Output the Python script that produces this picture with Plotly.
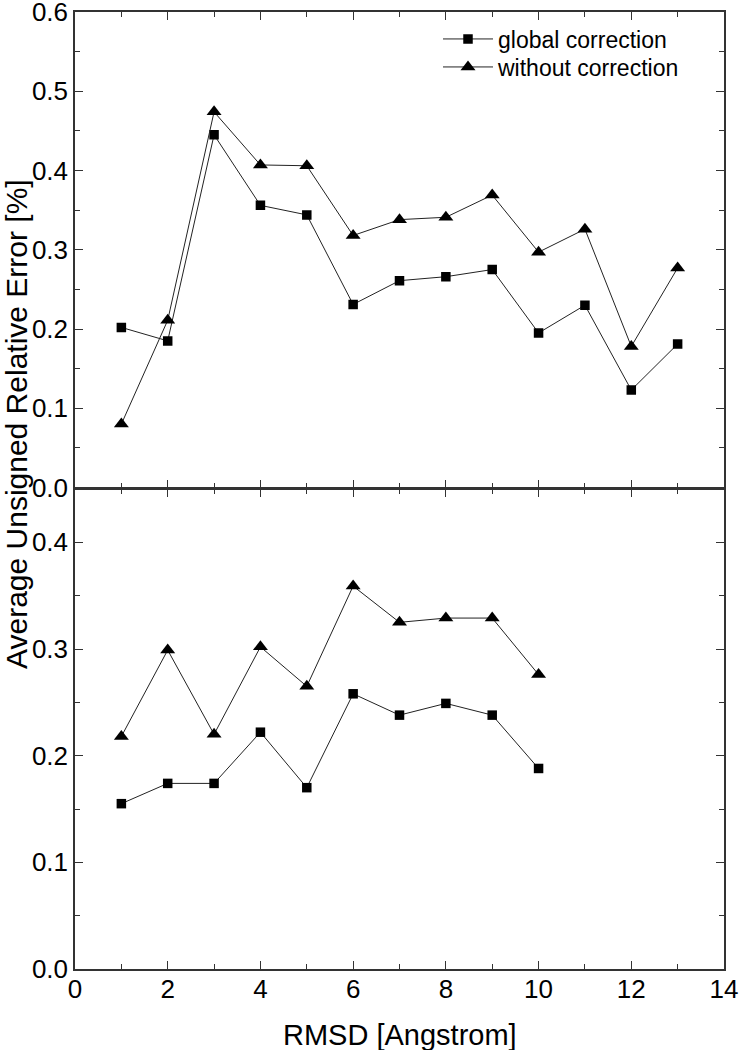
import plotly.graph_objects as go
from plotly.subplots import make_subplots

# ---- data ----
x_top = [1, 2, 3, 4, 5, 6, 7, 8, 9, 10, 11, 12, 13]
global_top = [0.202, 0.185, 0.445, 0.356, 0.344, 0.231, 0.261, 0.266, 0.275, 0.195, 0.230, 0.123, 0.181]
without_top = [0.080, 0.211, 0.474, 0.407, 0.406, 0.318, 0.338, 0.341, 0.369, 0.297, 0.326, 0.178, 0.277]

x_bot = [1, 2, 3, 4, 5, 6, 7, 8, 9, 10]
global_bot = [0.155, 0.174, 0.174, 0.222, 0.170, 0.258, 0.238, 0.249, 0.238, 0.188]
without_bot = [0.218, 0.299, 0.220, 0.302, 0.265, 0.359, 0.325, 0.329, 0.329, 0.276]

series_names = ["global correction", "without correction"]
x_title = "RMSD [Angstrom]"
y_title = "Average Unsigned Relative Error [%]"

FONT = "Liberation Sans, Arial, sans-serif"
AX = "#333333"
LINE = "#222222"
LW = 1.5

W, H = 740, 1050
ML, MR, MT, MB = 75, 16, 12, 81
plot_w = W - ML - MR
plot_h = H - MT - MB
split = (969 - 489) / plot_h

fig = make_subplots(rows=2, cols=1, shared_xaxes=True, vertical_spacing=0)

sq = dict(symbol="square", size=9.5, color="black", line=dict(width=0))
tri = dict(symbol="triangle-up", size=13, color="black", line=dict(width=0))

fig.add_trace(go.Scatter(x=x_top, y=global_top, mode="lines+markers", name=series_names[0],
                         legend="legend",
                         line=dict(color=LINE, width=1), marker=sq), row=1, col=1)
fig.add_trace(go.Scatter(x=x_top, y=without_top, mode="lines+markers", name=series_names[1],
                         legend="legend2",
                         line=dict(color=LINE, width=1), marker=tri), row=1, col=1)
fig.add_trace(go.Scatter(x=x_bot, y=global_bot, mode="lines+markers", name=series_names[0],
                         showlegend=False, line=dict(color=LINE, width=1), marker=sq), row=2, col=1)
fig.add_trace(go.Scatter(x=x_bot, y=without_bot, mode="lines+markers", name=series_names[1],
                         showlegend=False, line=dict(color=LINE, width=1), marker=tri), row=2, col=1)

common_axis = dict(showline=True, linecolor=AX, linewidth=LW, mirror="ticks",
                   ticks="inside", ticklen=8, tickwidth=1.2, tickcolor=AX,
                   showgrid=False, zeroline=False, automargin=False,
                   ticklabeloverflow="allow",
                   tickfont=dict(family=FONT, size=26, color="black"))

fig.update_xaxes(range=[0, 14], dtick=2, tick0=0,
                 minor=dict(ticks="inside", ticklen=5, dtick=1, tick0=0, tickcolor=AX, tickwidth=1.2),
                 **common_axis)
fig.update_xaxes(showticklabels=False, row=1, col=1)
fig.update_xaxes(ticklabelstandoff=-4, row=2, col=1)

fig.update_yaxes(range=[0, 0.6], dtick=0.1, tick0=0, tickformat=".1f",
                 minor=dict(ticks="inside", ticklen=5, dtick=0.05, tick0=0, tickcolor=AX, tickwidth=1.2),
                 row=1, col=1, **common_axis)
fig.update_yaxes(range=[0, 0.45], dtick=0.1, tick0=0, tickformat=".1f",
                 minor=dict(ticks="inside", ticklen=5, dtick=0.05, tick0=0, tickcolor=AX, tickwidth=1.2),
                 row=2, col=1, **common_axis)

# panel domains (small gap so the two boundary lines coincide)
fig.update_layout(yaxis=dict(domain=[split + LW / plot_h, 1]),
                  yaxis2=dict(domain=[0, split]))

fig.add_annotation(text=y_title, textangle=-90, xref="paper", yref="paper",
                   x=(16 - ML) / plot_w, y=(969 - 424) / plot_h,
                   xanchor="center", yanchor="middle", showarrow=False,
                   font=dict(family=FONT, size=30, color="black"))
fig.add_annotation(text=x_title, xref="paper", yref="paper",
                   x=0.5, y=(969 - 1035) / plot_h,
                   xanchor="center", yanchor="middle", showarrow=False,
                   font=dict(family=FONT, size=29, color="black"))

leg_common = dict(xanchor="left", yanchor="middle", bgcolor="rgba(0,0,0,0)",
                  font=dict(family=FONT, size=23, color="black"), itemwidth=50)
fig.update_layout(
    width=W, height=H,
    margin=dict(l=ML, r=MR, t=MT, b=MB),
    paper_bgcolor="white", plot_bgcolor="white",
    showlegend=True,
    legend=dict(x=(438 - ML) / plot_w, y=1 - (39 - MT) / plot_h, **leg_common),
    legend2=dict(x=(438 - ML) / plot_w, y=1 - (67 - MT) / plot_h, **leg_common),
)

fig.write_html("out.html", config={"displayModeBar": False},
               post_script="document.body.style.margin='0';document.body.style.overflow='hidden';")
